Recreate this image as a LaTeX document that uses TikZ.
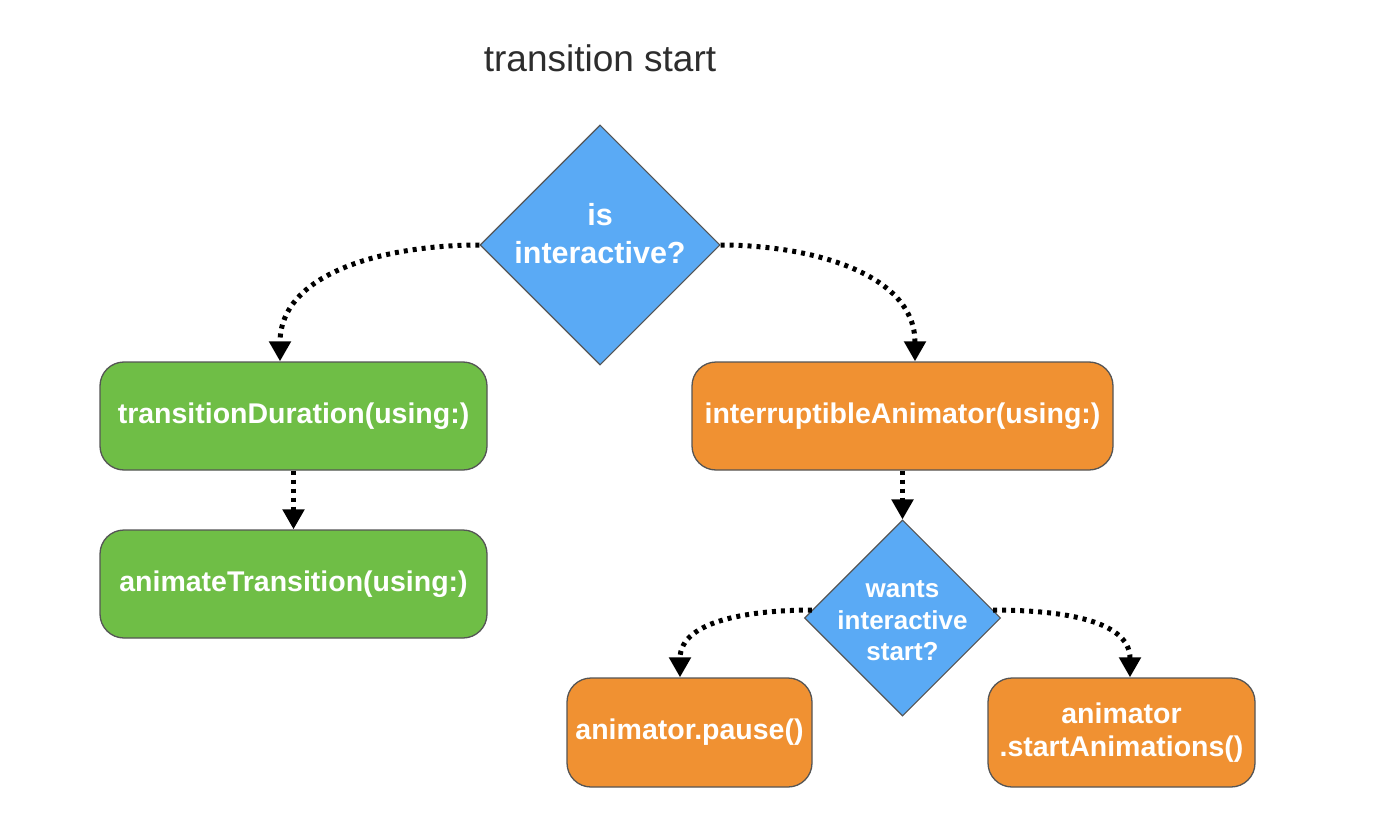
\documentclass[tikz,border=0pt]{standalone}
\usepackage{fontspec}
\setmainfont{Liberation Sans}
\usetikzlibrary{shapes.geometric,arrows.meta}
\definecolor{boxgreen}{RGB}{111,190,70}
\definecolor{boxorange}{RGB}{240,145,50}
\definecolor{dblue}{RGB}{90,170,245}
\definecolor{edgegray}{RGB}{85,85,85}
\definecolor{titlegray}{RGB}{45,45,45}
\begin{document}
\begin{tikzpicture}[x=1pt,y=-1pt,
  box/.style={draw=edgegray, line width=1.3pt, rounded corners=24pt, inner sep=0pt,
    text=white, font=\fontsize{28.5}{33}\selectfont\bfseries, align=center},
  gbox/.style={box, fill=boxgreen},
  obox/.style={box, fill=boxorange},
  dshape/.style={diamond, draw=edgegray, line width=1.1pt, fill=dblue, inner sep=0pt},
  dtext/.style={text=white, align=center, inner sep=0pt},
  flow/.style={draw=black, line width=5pt, dash pattern=on 4pt off 5pt,
    -{Triangle[length=20pt,width=21pt]}}
]
\useasboundingbox (0,0) rectangle (1380,826);
\fill[white] (0,0) rectangle (1380,826);

\node[text=titlegray, font=\fontsize{37}{42}\selectfont] (title) at (600,58) {transition start};

\node[dshape, minimum width=240pt, minimum height=240pt] (d1) at (600,245) {};
\node[dtext, font=\fontsize{30.5}{38}\selectfont\bfseries] (d1t) at (600,234) {is\\interactive?};

\node[gbox, minimum width=387pt, minimum height=108pt] (b1) at (293.5,416) {transitionDuration(using:)};
\node[gbox, minimum width=387pt, minimum height=108pt] (b2) at (293.5,584) {animateTransition(using:)};

\node[obox, minimum width=421pt, minimum height=108pt] (o1) at (902.5,416) {interruptibleAnimator(using:)};

\node[dshape, minimum width=196pt, minimum height=196pt] (d2) at (902.5,618) {};
\node[dtext, font=\fontsize{26}{31.5}\selectfont\bfseries] (d2t) at (902.5,621) {wants\\interactive\\start?};

\node[obox, minimum width=245pt, minimum height=109pt] (p) at (689.5,732.5) {animator.pause()};
\node[obox, minimum width=267pt, minimum height=109pt] (s) at (1121.5,732.5) {animator\\.startAnimations()};

\draw[flow] (d1.west) to[out=180,in=90] ([xshift=-13.5pt]b1.north);
\draw[flow] (d1.east) to[out=0,in=90] ([xshift=12.5pt]o1.north);
\draw[flow] (b1.south) -- (b2.north);
\draw[flow] (o1.south) -- (d2.north);
\draw[flow] (d2.175) to[out=180,in=90] ([xshift=-9.5pt]p.north);
\draw[flow] (d2.5) to[out=0,in=90] ([xshift=8.5pt]s.north);
\end{tikzpicture}
\end{document}
